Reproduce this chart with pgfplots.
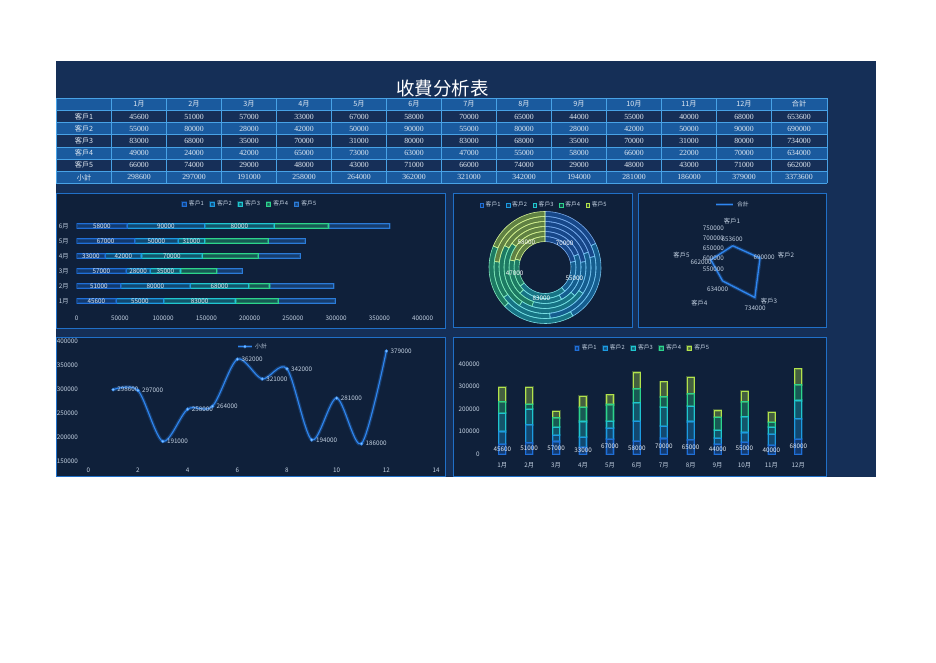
\documentclass[border=0pt]{standalone}
\usepackage{fontspec}
\usepackage{pgfplots}
\usepackage{pgfplotstable}
\pgfplotsset{compat=1.18}
\setmainfont{Noto Sans CJK SC}
\newfontfamily\numserif{Liberation Serif}

\definecolor{bgnavy}{HTML}{152F57}
\definecolor{panelbg}{HTML}{0F203A}
\definecolor{pborder}{HTML}{2070C8}
\definecolor{rowmid}{HTML}{1A5A9E}
\definecolor{rowdark}{HTML}{162F58}
\definecolor{gridc}{HTML}{48A2E6}
\definecolor{txt}{HTML}{C3D1E2}
\definecolor{tabtxt}{HTML}{E2EAF3}
\definecolor{cA}{HTML}{1F6FD8}
\definecolor{cB}{HTML}{1C9BE2}
\definecolor{cC}{HTML}{1FC6CF}
\definecolor{cD}{HTML}{2CD48C}
\definecolor{cE}{HTML}{B2E34C}
\definecolor{cEb}{HTML}{2A7BD8}
\definecolor{lineb}{HTML}{2F86F0}
\definecolor{markf}{HTML}{8CC8FF}

\newcommand\cf{\fontsize{6.3}{7}\selectfont}
\newcommand\lf{\fontsize{5.8}{6}\selectfont}
\newcommand\tabnum{\numserif\fontsize{7.8}{8}\selectfont}
\newcommand\tabcjk{\fontsize{7.2}{8}\selectfont}

\pgfkeys{/pgf/number format/.cd, fixed, 1000 sep={}, assume math mode=true}
\pgfplotsset{
  sqlegend/.style={legend image code/.code={\draw[##1, line width=0.6pt] (0pt,-1.8pt) rectangle (3.6pt,1.8pt);}},
  barsty/.style={draw=#1, fill=#1, fill opacity=0.18, line width=0.7pt,
     preaction={draw=#1, draw opacity=0.3, line width=2.2pt}, sqlegend},
  dark/.style={scale only axis, axis line style={draw=none}, major tick length=0pt,
     ticklabel style={font=\cf, text=txt}, scaled ticks=false,
     legend style={draw=none, fill=none, text=txt, font=\lf, legend columns=-1,
        anchor=center, inner sep=0pt, /tikz/every even column/.append style={column sep=3.5pt}}},
}

\newcommand\donutseg[5]{%
  \filldraw[fill=#5, fill opacity=0.5, draw=#5!60!white, line width=0.6pt]
   (#3:#1pt) arc[start angle=#3, end angle=#4, radius=#1pt] -- (#4:#2pt)
   arc[start angle=#4, end angle=#3, radius=#2pt] -- cycle;}

\pgfplotstableread{
m c1 c2 c3 c4 c5 tot
1 45600 55000 83000 49000 66000 298600
2 51000 80000 68000 24000 74000 297000
3 57000 28000 35000 42000 29000 191000
4 33000 42000 70000 65000 48000 258000
5 67000 50000 31000 73000 43000 264000
6 58000 90000 80000 63000 71000 362000
7 70000 55000 83000 47000 66000 321000
8 65000 80000 68000 55000 74000 342000
9 44000 28000 35000 58000 29000 194000
10 55000 42000 70000 66000 48000 281000
11 40000 50000 31000 22000 43000 186000
12 68000 90000 80000 70000 71000 379000
}\monthdata

\pgfplotstableread{
ang v
90 653600
18 690000
-54 734000
-126 634000
162 662000
90 653600
}\radardata

\newcommand\trow[3]{%
  \node[text=tabtxt, font=\tabcjk] at (84,#1) {#2};
  \foreach \t [count=\i] in {#3} \node[text=tabtxt, font=\tabnum] at (84+55*\i,#1) {\t};
}
\newcommand\panel[4]{\fill[panelbg] (#1,#2) rectangle (#3,#4); \draw[pborder, line width=0.8pt] (#1,#2) rectangle (#3,#4);}

\begin{document}
\begin{tikzpicture}[x=1pt,y=1pt]
\useasboundingbox (0,0) rectangle (936,662);
\fill[white] (0,0) rectangle (936,662);
\fill[bgnavy] (56,185) rectangle (876,601);
\node[white, font=\fontsize{18.5}{18}\selectfont] at (442.5,573) {收費分析表};

% ---- table
\fill[rowmid] (56,551.5) rectangle (827,564);
\fill[rowdark] (56,539.35) rectangle (827,551.5);
\fill[rowmid] (56,527.2) rectangle (827,539.35);
\fill[rowdark] (56,515.05) rectangle (827,527.2);
\fill[rowmid] (56,502.9) rectangle (827,515.05);
\fill[rowdark] (56,490.75) rectangle (827,502.9);
\fill[rowmid] (56,478.6) rectangle (827,490.75);
\foreach \y in {564,551.5,539.35,527.2,515.05,502.9,490.75,478.6}
  \draw[gridc, line width=0.6pt] (56,\y) -- (827,\y);
\foreach \xx in {56,111.5,166.5,221.5,276.5,331.5,386.5,441.5,496.5,551.5,606.5,661.5,716.5,771.5,827}
  \draw[gridc, line width=0.6pt] (\xx,478.6) -- (\xx,564);
\foreach \i in {1,...,12} \node[text=tabtxt, font=\tabcjk] at (84+55*\i,557.75) {\i 月};
\node[text=tabtxt, font=\tabcjk] at (799,557.75) {合計};
\trow{545.43}{客戶1}{45600,51000,57000,33000,67000,58000,70000,65000,44000,55000,40000,68000,653600}
\trow{533.28}{客戶2}{55000,80000,28000,42000,50000,90000,55000,80000,28000,42000,50000,90000,690000}
\trow{521.13}{客戶3}{83000,68000,35000,70000,31000,80000,83000,68000,35000,70000,31000,80000,734000}
\trow{508.98}{客戶4}{49000,24000,42000,65000,73000,63000,47000,55000,58000,66000,22000,70000,634000}
\trow{496.83}{客戶5}{66000,74000,29000,48000,43000,71000,66000,74000,29000,48000,43000,71000,662000}
\trow{484.68}{小計}{298600,297000,191000,258000,264000,362000,321000,342000,194000,281000,186000,379000,3373600}

% ---- panels
\panel{56.5}{334}{445}{469}
\panel{453}{335}{632}{469}
\panel{638}{335}{826.5}{469}
\panel{56.5}{186}{445}{325}
\panel{453}{186}{826.5}{325}

% ---- A: horizontal stacked bars
\begin{axis}[dark, at={(76.7pt,353.5pt)}, anchor=south west, width=346pt, height=90pt,
  xbar stacked, bar width=4.5pt, xmin=0, xmax=400000, ymin=0.5, ymax=6.5,
  xtick={0,50000,100000,150000,200000,250000,300000,350000,400000},
  ytick={1,2,3,4,5,6}, yticklabels={1月,2月,3月,4月,5月,6月},
  xticklabel style={yshift=-3.7pt}, yticklabel style={xshift=-4.5pt},
  restrict y to domain=0:6.5,
  legend style={at={(0.5,1.161)}}]
\addplot[barsty=cA] table[x=c1,y=m]{\monthdata}; \addlegendentry{客戶1}
\addplot[barsty=cB] table[x=c2,y=m]{\monthdata}; \addlegendentry{客戶2}
\addplot[barsty=cC] table[x=c3,y=m]{\monthdata}; \addlegendentry{客戶3}
\addplot[barsty=cD] table[x=c4,y=m]{\monthdata}; \addlegendentry{客戶4}
\addplot[barsty=cEb] table[x=c5,y=m]{\monthdata}; \addlegendentry{客戶5}
\end{axis}
\begin{axis}[at={(76.7pt,353.5pt)}, anchor=south west, scale only axis, width=346pt, height=90pt,
  xmin=0, xmax=400000, ymin=0.5, ymax=6.5, hide axis, restrict y to domain=0:6.5,
  nodes near coords, point meta=explicit symbolic,
  every node near coord/.style={anchor=center, font=\cf, text=tabtxt, inner sep=0pt}]
\addplot[draw=none, mark=none] table[x expr=\thisrow{c1}/2, y=m, meta=c1]{\monthdata};
\addplot[draw=none, mark=none] table[x expr=\thisrow{c1}+\thisrow{c2}/2, y=m, meta=c2]{\monthdata};
\addplot[draw=none, mark=none] table[x expr=\thisrow{c1}+\thisrow{c2}+\thisrow{c3}/2, y=m, meta=c3]{\monthdata};
\end{axis}

% ---- B: doughnut (months 7-12, inner to outer)
\begin{axis}[at={(545pt,394.5pt)}, anchor=center, scale only axis, width=120pt, height=120pt,
  xmin=-60, xmax=60, ymin=-60, ymax=60, hide axis, sqlegend,
  legend style={draw=none, fill=none, text=txt, font=\lf, legend columns=-1,
     anchor=center, inner sep=0pt, /tikz/every even column/.append style={column sep=3.5pt},
     at={(0.492,1.02)}}]
\addlegendimage{draw=cA, fill=cA, fill opacity=0.2}\addlegendentry{客戶1}
\addlegendimage{draw=cB, fill=cB, fill opacity=0.2}\addlegendentry{客戶2}
\addlegendimage{draw=cC, fill=cC, fill opacity=0.2}\addlegendentry{客戶3}
\addlegendimage{draw=cD, fill=cD, fill opacity=0.2}\addlegendentry{客戶4}
\addlegendimage{draw=cE, fill=cE, fill opacity=0.2}\addlegendentry{客戶5}
\pgfplotsextra{%
\begin{scope}[shift={(axis cs:0,0)}]
\foreach \row in {6,...,11}{%
  \pgfplotstablegetelem{\row}{c1}\of\monthdata\edef\va{\pgfplotsretval}%
  \pgfplotstablegetelem{\row}{c2}\of\monthdata\edef\vb{\pgfplotsretval}%
  \pgfplotstablegetelem{\row}{c3}\of\monthdata\edef\vc{\pgfplotsretval}%
  \pgfplotstablegetelem{\row}{c4}\of\monthdata\edef\vd{\pgfplotsretval}%
  \pgfplotstablegetelem{\row}{c5}\of\monthdata\edef\ve{\pgfplotsretval}%
  \edef\tot{\fpeval{\va+\vb+\vc+\vd+\ve}}%
  \edef\ri{\fpeval{26+5*(\row-6)}}%
  \edef\ro{\fpeval{31+5*(\row-6)}}%
  \edef\ab{\fpeval{round(90-360*\va/\tot,3)}}%
  \edef\ac{\fpeval{round(90-360*(\va+\vb)/\tot,3)}}%
  \edef\ad{\fpeval{round(90-360*(\va+\vb+\vc)/\tot,3)}}%
  \edef\ae{\fpeval{round(90-360*(\va+\vb+\vc+\vd)/\tot,3)}}%
  \donutseg{\ri}{\ro}{90}{\ab}{cA}%
  \donutseg{\ri}{\ro}{\ab}{\ac}{cB}%
  \donutseg{\ri}{\ro}{\ac}{\ad}{cC}%
  \donutseg{\ri}{\ro}{\ad}{\ae}{cD}%
  \donutseg{\ri}{\ro}{\ae}{-270}{cE}%
}
\pgfplotstablegetelem{6}{c1}\of\monthdata\edef\va{\pgfplotsretval}%
\pgfplotstablegetelem{6}{c2}\of\monthdata\edef\vb{\pgfplotsretval}%
\pgfplotstablegetelem{6}{c3}\of\monthdata\edef\vc{\pgfplotsretval}%
\pgfplotstablegetelem{6}{c4}\of\monthdata\edef\vd{\pgfplotsretval}%
\pgfplotstablegetelem{6}{c5}\of\monthdata\edef\ve{\pgfplotsretval}%
\edef\tot{\fpeval{\va+\vb+\vc+\vd+\ve}}%
\edef\ma{\fpeval{round(90-180*\va/\tot,3)}}%
\edef\mb{\fpeval{round(90-360*(\va+\vb/2)/\tot,3)}}%
\edef\mc{\fpeval{round(90-360*(\va+\vb+\vc/2)/\tot,3)}}%
\edef\md{\fpeval{round(90-360*(\va+\vb+\vc+\vd/2)/\tot,3)}}%
\edef\me{\fpeval{round(90-360*(\va+\vb+\vc+\vd+\ve/2)/\tot,3)}}%
\node[text=white, font=\cf, inner sep=0pt] at (\ma:31pt) {70000};
\node[text=white, font=\cf, inner sep=0pt] at (\mb:31pt) {55000};
\node[text=white, font=\cf, inner sep=0pt] at (\mc:31pt) {83000};
\node[text=white, font=\cf, inner sep=0pt] at (\md:31pt) {47000};
\node[text=white, font=\cf, inner sep=0pt] at (\me:31pt) {58000};
\end{scope}}
\end{axis}

% ---- C: radar
\begin{axis}[at={(732.7pt,395pt)}, anchor=center, scale only axis, width=82pt, height=82pt,
  xmin=-200000, xmax=200000, ymin=-200000, ymax=200000, hide axis,
  legend style={draw=none, fill=none, text=txt, font=\lf, anchor=center, inner sep=0pt,
     at={(0.5,1.26)}}]
\addplot[lineb, line width=1.3pt, preaction={draw=lineb, draw opacity=0.3, line width=3.5pt}]
  table[x expr={(\thisrow{v}-550000)*cos(\thisrow{ang})}, y expr={(\thisrow{v}-550000)*sin(\thisrow{ang})}]{\radardata};
\addlegendentry{合計}
\end{axis}
\begin{scope}[every node/.style={text=txt, font=\cf, inner sep=0pt}]
\node at (732,441) {客戶1};
\node at (786,406.5) {客戶2};
\node at (769,360.5) {客戶3};
\node at (699.3,359.3) {客戶4};
\node at (681.5,407) {客戶5};
\node[anchor=east] at (724,434) {750000};
\node[anchor=east] at (724,423.5) {700000};
\node[anchor=east] at (724,413.5) {650000};
\node[anchor=east] at (724,404) {600000};
\node[anchor=east] at (724,393.2) {550000};
\node at (732,422.7) {653600};
\node at (764,404.7) {690000};
\node at (755,354) {734000};
\node at (717.7,372.7) {634000};
\node at (701,399.3) {662000};
\end{scope}

% ---- D: line
\begin{axis}[dark, at={(88.3pt,201pt)}, anchor=south west, width=347.7pt, height=120pt,
  xmin=0, xmax=14, ymin=150000, ymax=400000, xtick={0,2,4,6,8,10,12,14},
  ytick={150000,200000,250000,300000,350000,400000},
  xticklabel style={yshift=-3.5pt}, yticklabel style={xshift=-6.8pt},
  legend style={at={(0.473,0.9525)}},
  legend image code/.code={\draw[mark repeat=2,mark phase=2,#1] plot coordinates {(0pt,0pt) (6.5pt,0pt) (13pt,0pt)};}]
\addplot[lineb, line width=1.1pt, smooth, tension=0.5,
  preaction={draw=lineb, draw opacity=0.3, line width=3.5pt},
  mark=*, mark size=1.5pt, mark options={fill=markf, draw=lineb, line width=0.4pt},
  nodes near coords, point meta=explicit symbolic,
  every node near coord/.style={anchor=west, xshift=3.5pt, inner sep=0.5pt, font=\cf, text=txt}]
  table[x=m, y=tot, meta=tot]{\monthdata};
\addlegendentry{小計}
\end{axis}

% ---- E: stacked columns
\begin{axis}[dark, at={(488.85pt,207.7pt)}, anchor=south west, width=322.9pt, height=90.3pt,
  ybar stacked, bar width=7pt, xmin=0.5, xmax=12.5, ymin=0, ymax=400000,
  xtick={1,2,3,4,5,6,7,8,9,10,11,12},
  xticklabels={1月,2月,3月,4月,5月,6月,7月,8月,9月,10月,11月,12月},
  ytick={0,100000,200000,300000,400000},
  xticklabel style={yshift=-4.5pt}, yticklabel style={xshift=-5.7pt},
  legend style={at={(0.476,1.174)}}]
\addplot[barsty=cA] table[x=m,y=c1]{\monthdata}; \addlegendentry{客戶1}
\addplot[barsty=cB] table[x=m,y=c2]{\monthdata}; \addlegendentry{客戶2}
\addplot[barsty=cC] table[x=m,y=c3]{\monthdata}; \addlegendentry{客戶3}
\addplot[barsty=cD] table[x=m,y=c4]{\monthdata}; \addlegendentry{客戶4}
\addplot[barsty=cE] table[x=m,y=c5]{\monthdata}; \addlegendentry{客戶5}
\end{axis}
\begin{axis}[at={(488.85pt,207.7pt)}, anchor=south west, scale only axis, width=322.9pt, height=90.3pt,
  xmin=0.5, xmax=12.5, ymin=0, ymax=400000, hide axis,
  nodes near coords, point meta=explicit symbolic,
  every node near coord/.style={anchor=center, font=\cf, text=tabtxt, inner sep=0pt}]
\addplot[draw=none, mark=none] table[x=m, y expr=\thisrow{c1}/2, meta=c1]{\monthdata};
\end{axis}
\end{tikzpicture}
\end{document}
